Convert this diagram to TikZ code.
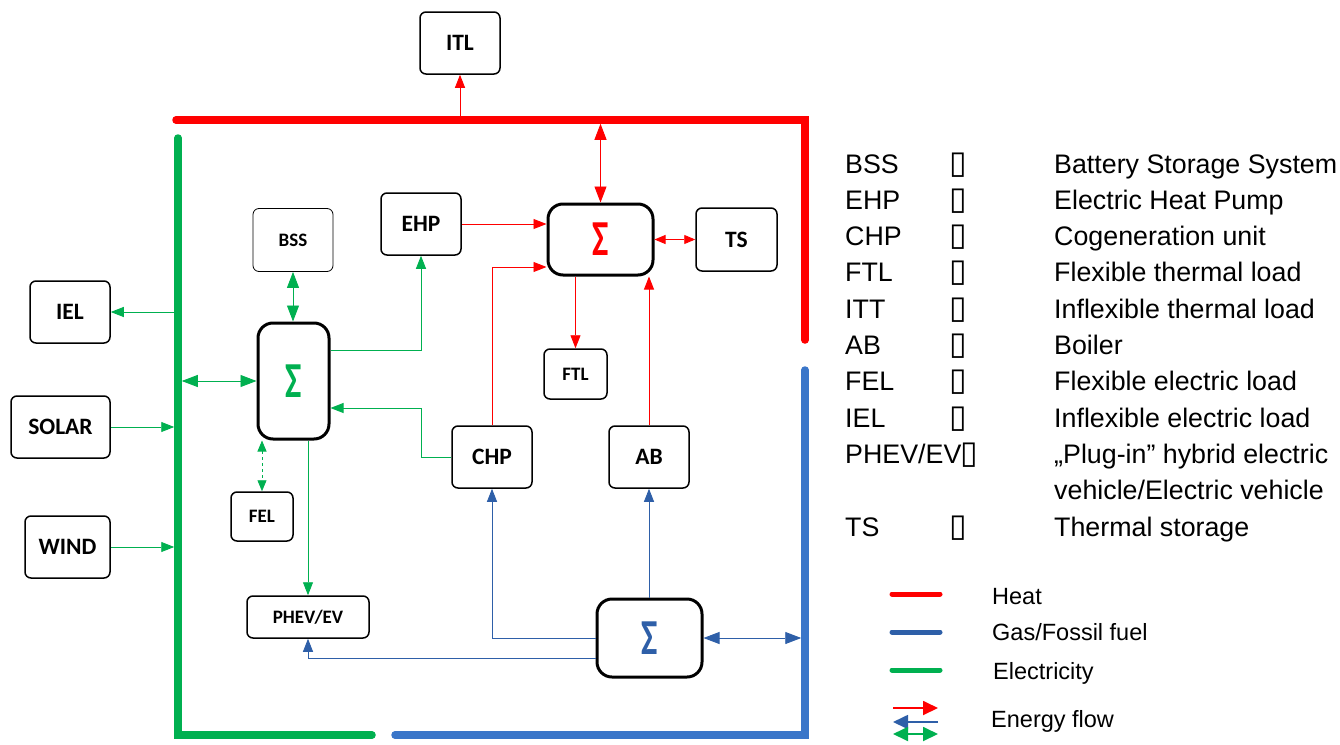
\documentclass[tikz,border=0pt]{standalone}
\usepackage{fontspec}
\usepackage{graphicx}
\setmainfont{Liberation Sans}
\newfontfamily\carl{Carlito}
\newfontfamily\djv{DejaVu Sans}
\usetikzlibrary{arrows.meta,calc}
\definecolor{hred}{HTML}{FF0000}
\definecolor{egreen}{HTML}{00B050}
\definecolor{gblue}{HTML}{3A76C9}
\definecolor{fblue}{HTML}{2E5FA8}
\newcommand{\sigmaglyph}{\scalebox{0.72}[1.05]{Σ}}
\begin{document}
\begin{tikzpicture}[x=1pt,y=-1pt,
  bus/.style={line width=7.5, line cap=round},
  blk/.style={draw, line width=1.5, rounded corners=6, inner sep=0, align=center, font=\carl\bfseries\fontsize{23.5}{26}\selectfont},
  big/.style={blk, minimum width=80, minimum height=62},
  small/.style={blk, font=\carl\bfseries\fontsize{19}{22}\selectfont},
  sig/.style={draw, line width=3, rounded corners=15, inner sep=0, font=\carl\bfseries\fontsize{48}{48}\selectfont},
  flow/.style={line width=0.9, -{Triangle[length=13,width=10]}},
  flowb/.style={line width=0.9, {Triangle[length=16,width=12]}-{Triangle[length=16,width=12]}},
  flows/.style={line width=0.9, {Triangle[length=11,width=9]}-{Triangle[length=11,width=9]}},
  leg/.style={anchor=base west, inner sep=0, font=\fontsize{26.8}{30}\selectfont},
  legs/.style={anchor=base west, inner sep=0, font=\fontsize{23.5}{28}\selectfont},
  tofu/.style={anchor=base west, inner sep=0, font=\djv\fontsize{32}{34}\selectfont},
  legline/.style={line width=5, line cap=round}
]
\useasboundingbox (0,0) rectangle (1340,744);

% buses
\coordinate (rbusL) at (176,120);
\coordinate (rbusC) at (805,120);
\coordinate (rbusE) at (805,340);
\coordinate (gbusT) at (178,138);
\coordinate (gbusC) at (178,735);
\coordinate (gbusE) at (372,735);
\coordinate (bbusS) at (395,735);
\coordinate (bbusC) at (805,735);
\coordinate (bbusT) at (805,370);
\draw[bus,hred] (rbusL) -- (rbusC) -- (rbusE);
\draw[bus,egreen] (gbusT) -- (gbusC) -- (gbusE);
\draw[bus,gblue] (bbusS) -- (bbusC) -- (bbusT);

% nodes
\node[big] (ITL) at (460,43) {ITL};
\node[big] (IEL) at (70,312) {IEL};
\node[big, minimum width=99] (SOLAR) at (60.5,427) {SOLAR};
\node[big, minimum width=85] (WIND) at (67.5,547) {WIND};
\node[small, line width=0.8, minimum width=80, minimum height=63] (BSS) at (293,240) {BSS};
\node[big] (EHP) at (421,224) {EHP};
\node[sig, minimum width=71, minimum height=116, text=egreen] (gS) at (293.5,381) {\sigmaglyph};
\node[small, minimum width=62, minimum height=49] (FEL) at (262,516.5) {FEL};
\node[small, minimum width=122, minimum height=42] (PHEV) at (308,617) {PHEV/EV};
\node[big] (CHP) at (492,457) {CHP};
\node[big] (AB) at (649,457) {AB};
\node[sig, minimum width=105, minimum height=71, text=hred] (rS) at (600.5,239.5) {\sigmaglyph};
\node[big, minimum width=81, minimum height=63] (TS) at (736.5,239.5) {TS};
\node[small, minimum width=63, minimum height=50] (FTL) at (575.5,374) {FTL};
\node[sig, minimum width=105, minimum height=78, text=fblue] (bS) at (649.5,638) {\sigmaglyph};

% heat connectors
\draw[flow,hred] (ITL.south |- rbusL) -- (ITL.south);
\draw[flowb,hred] ([yshift=-3.75pt]rS.north |- rbusL) -- (rS.north);
\draw[flow,hred] (EHP.east) -- (rS.west |- EHP.east);
\draw[flow,hred] (CHP.north) |- ($(rS.west)+(0,27.5)$);
\draw[flow,hred] (FTL.north |- rS.south) -- (FTL.north);
\draw[flow,hred] (AB.north) -- (AB.north |- rS.south);
\draw[flows,hred] (rS.east) -- (TS.west);

% electricity connectors
\draw[flow,egreen] ([xshift=-3.75pt]IEL.east -| gbusT) -- (IEL.east);
\draw[flow,egreen,shorten >=3.75pt] (SOLAR.east) -- (SOLAR.east -| gbusT);
\draw[flow,egreen,shorten >=3.75pt] (WIND.east) -- (WIND.east -| gbusT);
\draw[flowb,egreen,shorten <=3.75pt] (gS.west -| gbusT) -- (gS.west);
\draw[flowb,egreen] (BSS.south) -- (BSS.south |- gS.north);
\draw[flow,egreen] ($(gS.east)+(0,-31)$) -| (EHP.south);
\draw[flow,egreen] (CHP.west) -- (CHP.west -| EHP.south) |- ($(gS.east)+(0,27)$);
\draw[flows,egreen,dashed] (FEL.north |- gS.south) -- (FEL.north);
\draw[flow,egreen] (PHEV.north |- gS.south) -- (PHEV.north);

% gas connectors
\draw[flow,fblue] (AB.south |- bS.north) -- (AB.south);
\draw[flow,fblue] (bS.west) -| (CHP.south);
\draw[flow,fblue] ($(bS.west)+(0,20)$) -| (PHEV.south);
\draw[flowb,fblue,shorten >=3.75pt] (bS.east) -- (bS.east -| bbusC);

% legend of abbreviations
\node[leg] (l1) at (845,173) {BSS};
\node[leg] (l2) at (845,209.3) {EHP};
\node[leg] (l3) at (845,245.6) {CHP};
\node[leg] (l4) at (845,281.9) {FTL};
\node[leg] (l5) at (845,318.2) {ITT};
\node[leg] (l6) at (845,354.5) {AB};
\node[leg] (l7) at (845,390.8) {FEL};
\node[leg] (l8) at (845,427.1) {IEL};
\node[leg] (l9) at (845,463.4) {PHEV/EV};
\node[leg] (l10) at (845,536) {TS};
\foreach \i/\yy in {1/173,2/209.3,3/245.6,4/281.9,5/318.2,6/354.5,7/390.8,8/427.1,10/536}{
  \node[tofu] (t\i) at (949,\yy) {▯};
}
\node[tofu] (t9) at ([xshift=-1pt]l9.base east) {▯};
\node[leg] (d1) at (1054,173) {Battery Storage System};
\node[leg] (d2) at (1054,209.3) {Electric Heat Pump};
\node[leg] (d3) at (1054,245.6) {Cogeneration unit};
\node[leg] (d4) at (1054,281.9) {Flexible thermal load};
\node[leg] (d5) at (1054,318.2) {Inflexible thermal load};
\node[leg] (d6) at (1054,354.5) {Boiler};
\node[leg] (d7) at (1054,390.8) {Flexible electric load};
\node[leg] (d8) at (1054,427.1) {Inflexible electric load};
\node[leg] (d9) at (1054,463.4) {„Plug-in” hybrid electric};
\node[leg] (d9b) at (1054,499.7) {vehicle/Electric vehicle};
\node[leg] (d10) at (1054,536) {Thermal storage};

% colour legend
\draw[legline,hred] (892,594) -- (940,594);
\draw[legline,fblue] (892,632) -- (940,632);
\draw[legline,egreen] (892,670) -- (940,670);
\node[legs] (k1) at (992,604) {Heat};
\node[legs] (k2) at (992,640) {Gas/Fossil fuel};
\node[legs] (k3) at (993,679) {Electricity};
\node[legs] (k4) at (991,727) {Energy flow};
\coordinate (fa1) at (893,708);
\coordinate (fa2) at (938,708);
\coordinate (fb1) at (938,722);
\coordinate (fb2) at (893,722);
\coordinate (fc1) at (893,734);
\coordinate (fc2) at (938,734);
\draw[line width=1.8,hred,-{Triangle[length=15,width=14]}] (fa1) -- (fa2);
\draw[line width=1.8,fblue,-{Triangle[length=15,width=14]}] (fb1) -- (fb2);
\draw[line width=1.8,egreen,{Triangle[length=15,width=14]}-{Triangle[length=15,width=14]}] (fc1) -- (fc2);
\end{tikzpicture}
\end{document}
